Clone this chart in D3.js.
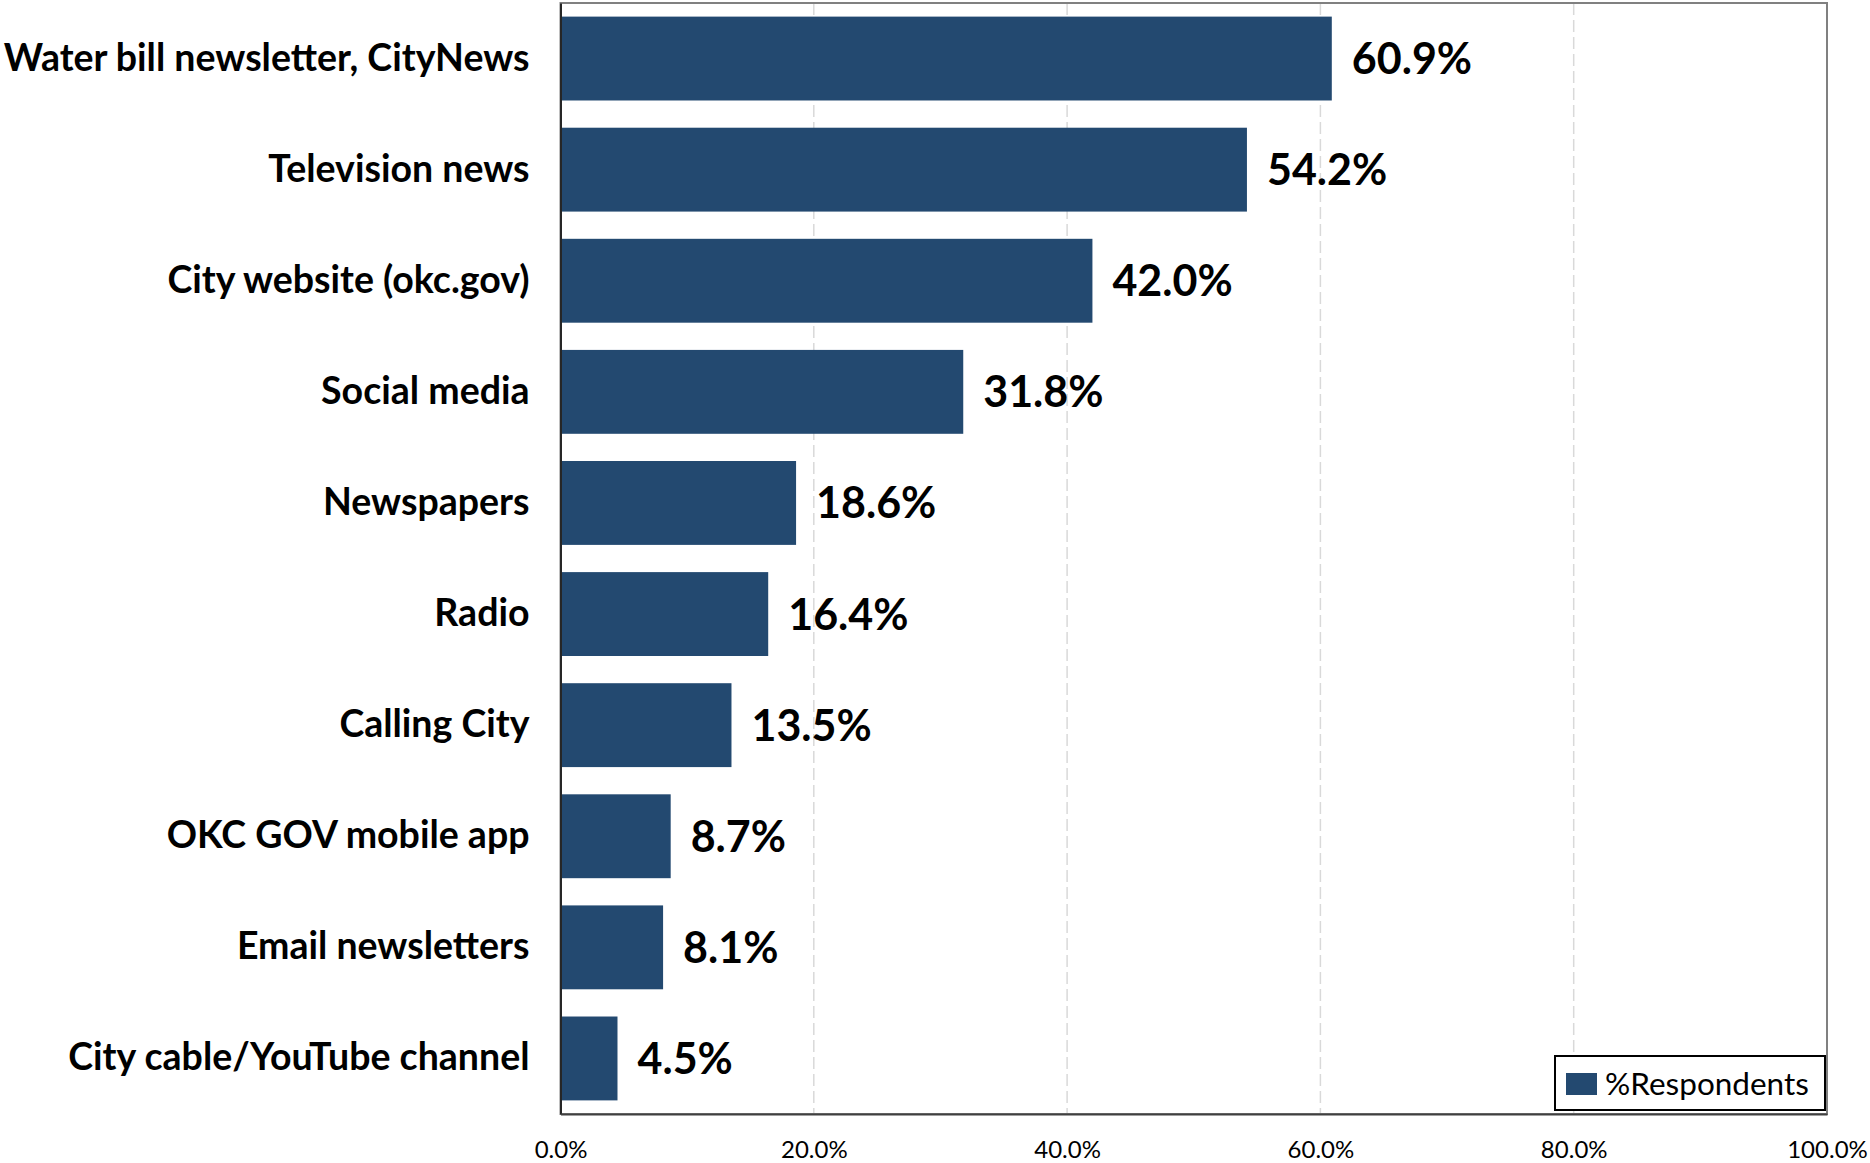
<!DOCTYPE html>
<html>
<head>
<meta charset="utf-8">
<script src="https://cdn.jsdelivr.net/npm/d3@7"></script>
<style>
  html, body { margin: 0; padding: 0; background: #fff; }
  svg { display: block; }
</style>
</head>
<body>
<script>
const categories = [
  "Water bill newsletter, CityNews",
  "Television news",
  "City website (okc.gov)",
  "Social media",
  "Newspapers",
  "Radio",
  "Calling City",
  "OKC GOV mobile app",
  "Email newsletters",
  "City cable/YouTube channel"
];
const values = [60.9, 54.2, 42.0, 31.8, 18.6, 16.4, 13.5, 8.7, 8.1, 4.5];
const tickValues = [0, 20, 40, 60, 80, 100];
const seriesName = "%Respondents";

const W = 1870, H = 1163;
const margin = { top: 3, right: 43, bottom: 49, left: 560.5 };
const barColor = "#234970";

const svg = d3.select("body").append("svg").attr("width", W).attr("height", H);

const x = d3.scaleLinear().domain([0, 100]).range([margin.left, W - margin.right]);
const y = d3.scaleBand().domain(categories).range([margin.top, H - margin.bottom])
  .paddingInner(0.245).paddingOuter(0.1225);

// gridlines
svg.append("g").selectAll("line").data(tickValues.filter(d => d > 0 && d < 100)).join("line")
  .attr("x1", d => x(d)).attr("x2", d => x(d))
  .attr("y1", margin.top).attr("y2", H - margin.bottom)
  .attr("stroke", "#d9d9d9").attr("stroke-width", 1.5).attr("stroke-dasharray", "12,5");

// bars
svg.append("g").selectAll("rect").data(values).join("rect")
  .attr("x", x(0))
  .attr("y", (d, i) => y(categories[i]))
  .attr("width", d => x(d) - x(0))
  .attr("height", y.bandwidth())
  .attr("fill", barColor);

// value labels
svg.append("g").selectAll("text").data(values).join("text")
  .attr("x", d => x(d) + 20)
  .attr("y", (d, i) => y(categories[i]) + y.bandwidth() / 2)
  .attr("dy", "0.36em")
  .attr("font-family", "Lato, sans-serif")
  .attr("font-weight", "bold")
  .attr("font-size", 43)
  .attr("fill", "#000")
  .text(d => d.toFixed(1) + "%");

// plot border
svg.append("rect")
  .attr("x", margin.left).attr("y", margin.top)
  .attr("width", W - margin.right - margin.left)
  .attr("height", H - margin.bottom - margin.top)
  .attr("fill", "none").attr("stroke", "#808080").attr("stroke-width", 2);

// y axis
const yAxis = d3.axisLeft(y).tickSize(0).tickPadding(31);
const gy = svg.append("g").attr("transform", `translate(${margin.left},0)`).call(yAxis);
gy.select(".domain").attr("stroke", "#262626").attr("stroke-width", 2);
gy.selectAll("text")
  .attr("font-family", "Lato, sans-serif")
  .attr("font-weight", "bold")
  .attr("font-size", 37.5)
  .attr("fill", "#000");

// x axis
const xAxis = d3.axisBottom(x).tickValues(tickValues).tickSize(0).tickPadding(27)
  .tickFormat(d => d.toFixed(1) + "%");
const gx = svg.append("g").attr("transform", `translate(0,${H - margin.bottom})`).call(xAxis);
gx.select(".domain").attr("stroke", "#404040").attr("stroke-width", 2);
gx.selectAll("text")
  .attr("font-family", "Lato, sans-serif")
  .attr("font-size", 24)
  .attr("fill", "#000");

// legend
const lg = svg.append("g").attr("transform", "translate(1555,1056)");
lg.append("rect").attr("width", 270).attr("height", 54)
  .attr("fill", "#fff").attr("stroke", "#000").attr("stroke-width", 2);
lg.append("rect").attr("x", 11).attr("y", 17).attr("width", 31).attr("height", 22).attr("fill", barColor);
lg.append("text").attr("x", 50).attr("y", 28).attr("dy", "0.36em")
  .attr("font-family", "Lato, sans-serif").attr("font-size", 31.5).attr("fill", "#000")
  .text(seriesName);
</script>
</body>
</html>
